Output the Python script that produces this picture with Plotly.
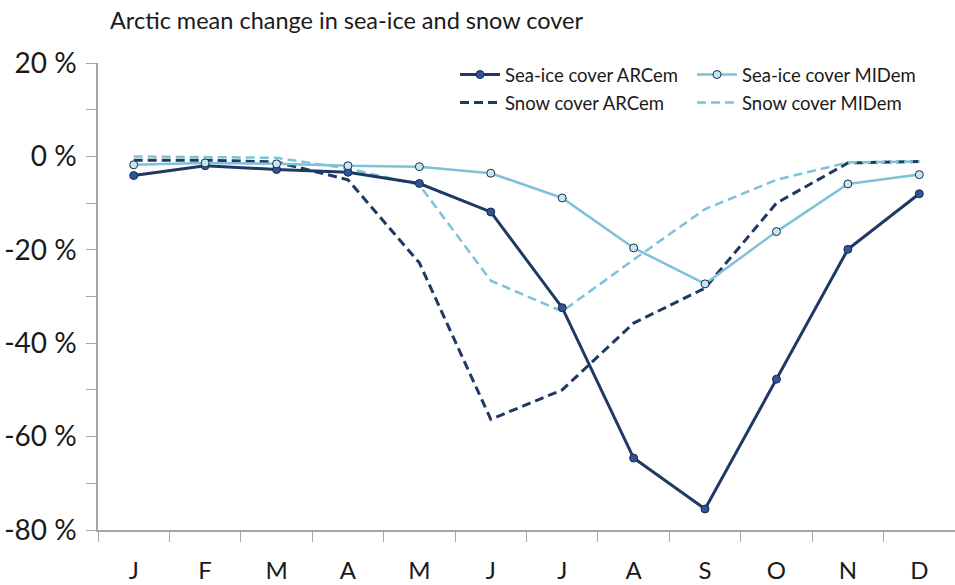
import plotly.graph_objects as go

months = ["J", "F", "M", "A", "M", "J", "J", "A", "S", "O", "N", "D"]
# use unique category keys so repeated month initials stay distinct
month_keys = [f"{i}" for i in range(12)]

sea_ice_arcem = [-4.1, -2.0, -2.8, -3.4, -5.8, -11.9, -32.4, -64.6, -75.5, -47.7, -19.9, -8.0]
sea_ice_midem = [-1.8, -1.4, -1.6, -2.0, -2.2, -3.6, -8.9, -19.6, -27.3, -16.1, -5.9, -3.9]
snow_arcem = [-0.8, -0.8, -1.2, -5.0, -22.8, -56.3, -50.0, -35.7, -28.2, -10.0, -1.4, -1.1]
snow_midem = [0.0, -0.1, -0.3, -2.6, -6.1, -26.6, -33.2, -22.1, -11.3, -5.0, -1.3, -1.1]

y_ticks = [20, 0, -20, -40, -60, -80]
y_tick_text = [f"{v} %" for v in y_ticks]

dark = "#1f3864"
dark_fill = "#2f5597"
light = "#7cc2d8"
light_fill = "#c6e7f0"
outline = "#1b2b4a"
axis_grey = "#a6a6a6"
text_col = "#1a1a1a"
font_family = "Lato, 'Open Sans', sans-serif"

fig = go.Figure()

# dashed snow lines first so the sea-ice lines sit on top
fig.add_trace(go.Scatter(
    x=month_keys, y=snow_arcem, name="Snow cover ARCem",
    mode="lines", legend="legend2",
    line=dict(color=dark, width=3, dash="9px,5px"),
))
fig.add_trace(go.Scatter(
    x=month_keys, y=snow_midem, name="Snow cover MIDem",
    mode="lines", legend="legend2",
    line=dict(color=light, width=2.5, dash="9px,5px"),
))
fig.add_trace(go.Scatter(
    x=month_keys, y=sea_ice_arcem, name="Sea-ice cover ARCem",
    mode="lines+markers", legend="legend",
    line=dict(color=dark, width=3),
    marker=dict(size=8, color=dark_fill, line=dict(color=outline, width=1)),
))
fig.add_trace(go.Scatter(
    x=month_keys, y=sea_ice_midem, name="Sea-ice cover MIDem",
    mode="lines+markers", legend="legend",
    line=dict(color=light, width=2.5),
    marker=dict(size=8, color=light_fill, line=dict(color=outline, width=1)),
))

# two one-row legends, placed inside the plot area (paper coordinates)
legend_common = dict(
    orientation="h", traceorder="normal",
    xref="paper", yref="paper",
    xanchor="left", yanchor="middle",
    entrywidth=182, entrywidthmode="pixels",
    font=dict(size=18.5, family=font_family, color=text_col),
    bgcolor="rgba(0,0,0,0)", itemwidth=40,
)

fig.update_layout(
    width=955, height=585,
    margin=dict(l=98, r=0, t=63, b=55, autoexpand=False),
    paper_bgcolor="white", plot_bgcolor="white",
    font=dict(family=font_family, color=text_col),
    title=dict(
        text="Arctic mean change in sea-ice and snow cover",
        x=110 / 955, xref="container", xanchor="left",
        y=1 - 21 / 585, yref="container", yanchor="middle",
        font=dict(size=23.5, family=font_family, color=text_col),
    ),
    showlegend=True,
    legend=dict(legend_common, x=0.4166, y=0.9743),
    legend2=dict(legend_common, x=0.4166, y=0.9143),
    xaxis=dict(
        type="category", categoryorder="array", categoryarray=month_keys,
        tickvals=month_keys, ticktext=months,
        range=[-0.5, 11.5], tickson="boundaries",
        showline=True, linecolor=axis_grey, linewidth=1.5,
        ticks="outside", ticklen=10, tickcolor=axis_grey, tickwidth=1,
        showgrid=False, zeroline=False,
        tickfont=dict(size=24, family=font_family, color=text_col),
        ticklabelstandoff=18,
    ),
    yaxis=dict(
        range=[-80, 20],
        tickvals=y_ticks, ticktext=y_tick_text,
        showline=True, linecolor=axis_grey, linewidth=1.5,
        ticks="outside", ticklen=10, tickcolor=axis_grey, tickwidth=1,
        minor=dict(dtick=10, tick0=0, ticks="outside", ticklen=10,
                   tickcolor=axis_grey, tickwidth=1, showgrid=False),
        showgrid=False, zeroline=False,
        tickfont=dict(size=28, family=font_family, color=text_col),
        ticklabelstandoff=4,
    ),
)

fig.write_html("out.html")
